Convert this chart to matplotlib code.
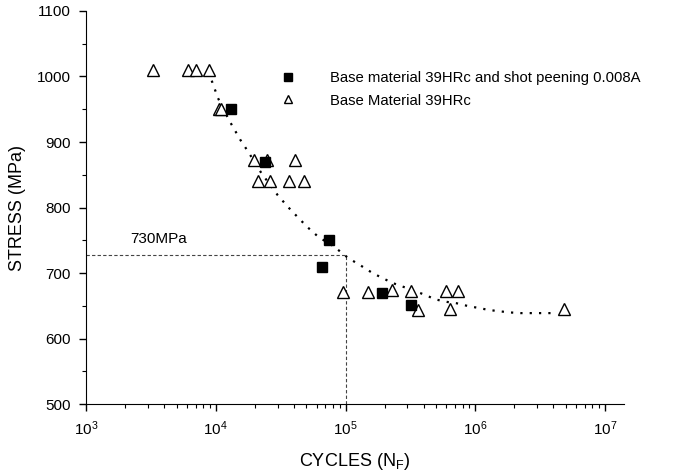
import matplotlib
matplotlib.use("Agg")
import matplotlib.pyplot as plt
from matplotlib.ticker import MultipleLocator, LogLocator, NullFormatter

plt.rcParams['font.family'] = ['Liberation Sans', 'DejaVu Sans']
plt.rcParams['mathtext.fontset'] = 'custom'
plt.rcParams['mathtext.rm'] = 'Liberation Sans'
plt.rcParams['mathtext.it'] = 'Liberation Sans'

# shot peened specimens
peened_cycles = [1.3e4, 2.4e4, 7.4e4, 6.6e4, 1.9e5, 3.2e5]
peened_stress = [950, 870, 750, 710, 670, 652]

# base material specimens
base_cycles = [3.3e3, 6.1e3, 7.1e3, 8.8e3, 1.05e4, 1.1e4,
               1.96e4, 2.5e4, 4.1e4, 2.1e4, 2.6e4, 3.7e4, 4.8e4,
               9.6e4, 1.5e5, 2.3e5, 3.2e5, 3.6e5, 6.0e5, 7.4e5, 6.4e5, 4.8e6]
base_stress = [1010, 1010, 1010, 1010, 950, 950,
               872, 872, 872, 840, 840, 840, 840,
               671, 671, 674, 672, 643, 672, 672, 645, 646]

# fitted S-N trend
fit_cycles = [8.8e3, 1.04e4, 1.26e4, 1.55e4, 1.78e4, 2.24e4, 3.0e4, 3.6e4,
              4.3e4, 5.1e4, 6.2e4, 8.1e4, 1.05e5, 1.3e5, 1.62e5, 1.95e5,
              2.3e5, 2.8e5, 3.3e5, 4.2e5, 4.9e5, 6.1e5, 7.2e5, 8.7e5,
              1.05e6, 1.26e6, 1.5e6, 1.86e6, 2.24e6, 2.63e6, 3.3e6, 3.9e6, 4.3e6]
fit_stress = [1007, 967, 934, 903, 885, 853, 819, 801,
              785, 770, 755, 741, 723, 712, 700, 692,
              685, 679, 674, 666, 660, 656, 654, 650,
              647, 644, 642, 640, 639, 639, 639, 639, 640]

ref_cycles = 1e5
ref_stress = 727

fig = plt.figure(figsize=(6.94, 4.75), dpi=100)
ax = fig.add_axes([0.124, 0.149, 0.775, 0.828])

ax.plot(fit_cycles, fit_stress, color='black', linestyle=(0, (1, 3.2)), linewidth=1.6,
        dash_capstyle='butt', zorder=2)
ax.plot([1e3, ref_cycles], [ref_stress, ref_stress], color='#444444', linestyle=(0, (3, 2)),
        linewidth=0.8, zorder=1)
ax.plot([ref_cycles, ref_cycles], [500, ref_stress], color='#444444', linestyle=(0, (3, 2)),
        linewidth=0.8, zorder=1)
ax.text(2.2e3, 752, '730MPa', fontsize=11, va='center', ha='left')

ax.plot(base_cycles, base_stress, linestyle='none', marker='^', markersize=8,
        markerfacecolor='white', markeredgecolor='black', markeredgewidth=1.0,
        label='Base Material 39HRc', zorder=3)
ax.plot(peened_cycles, peened_stress, linestyle='none', marker='s', markersize=7.5,
        color='black', label='Base material 39HRc and shot peening 0.008A', zorder=4)

handles, labels = ax.get_legend_handles_labels()
leg = ax.legend(handles[::-1], labels[::-1], loc='upper left', bbox_to_anchor=(0.33, 0.88),
                frameon=False, fontsize=10.7, handletextpad=2.1, labelspacing=0.55,
                markerscale=0.8, handlelength=1.5)

ax.set_xscale('log')
ax.set_xlim(1e3, 1.4e7)
ax.set_ylim(500, 1100)
ax.yaxis.set_major_locator(MultipleLocator(100))
ax.yaxis.set_minor_locator(MultipleLocator(50))
ax.xaxis.set_major_locator(LogLocator(base=10, numticks=10))
ax.xaxis.set_minor_locator(LogLocator(base=10, subs=range(2, 10), numticks=20))
ax.xaxis.set_minor_formatter(NullFormatter())

ax.spines['top'].set_visible(False)
ax.spines['right'].set_visible(False)
ax.tick_params(which='major', direction='out', length=5, width=1, labelsize=11)
ax.tick_params(axis='y', which='major', pad=6)
ax.tick_params(axis='x', which='major', pad=6)
ax.tick_params(which='minor', direction='out', length=3, width=0.8)

ax.set_xlabel('CYCLES (N$_F$)', fontsize=13, labelpad=9)
ax.set_ylabel('STRESS (MPa)', fontsize=13, labelpad=8)

fig.savefig('out.png', dpi=100)
